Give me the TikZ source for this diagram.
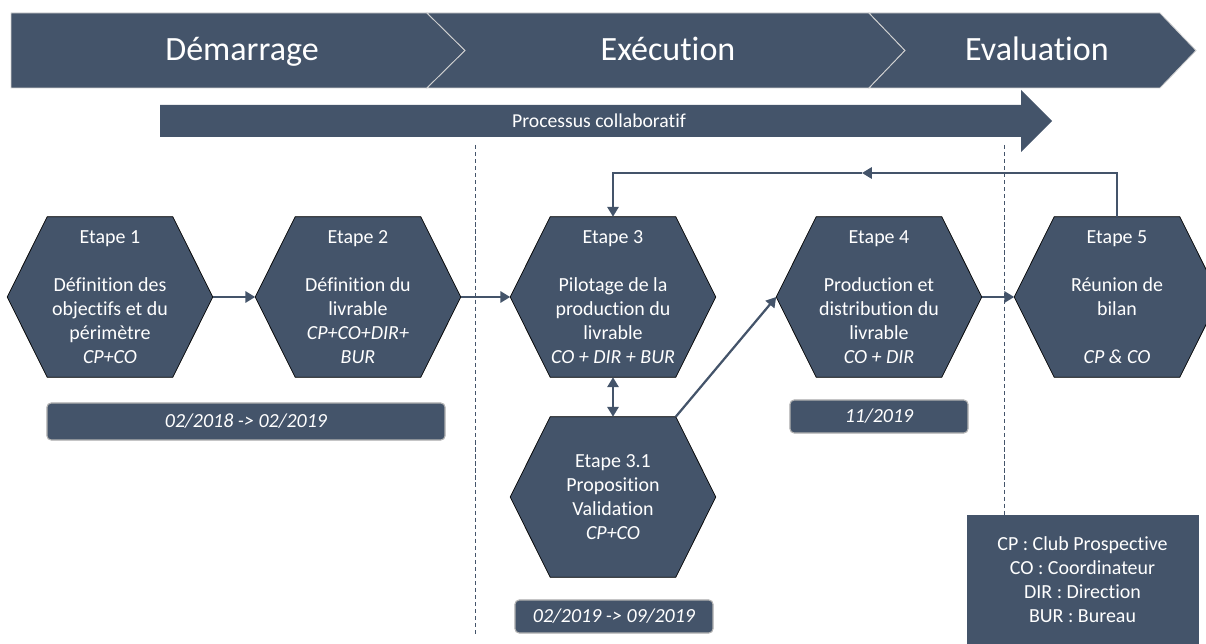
\documentclass[tikz,border=0pt]{standalone}
\usepackage{fontspec}
\setmainfont{Carlito}[Ligatures={NoCommon}]
\usetikzlibrary{arrows.meta,backgrounds}
\definecolor{slate}{HTML}{44546A}

\begin{document}
\begin{tikzpicture}[x=0.025cm, y=-0.025cm,
  etape/.style={minimum width=5.125cm, minimum height=4cm, inner sep=0pt, text=white, align=center, font=\fontsize{14.2}{17.1}\selectfont},
  hexa/.style={fill=slate, draw=black, line width=0.5pt},
  datebox/.style={fill=slate, draw=gray!60, line width=0.8pt, rounded corners=3pt, text=white, inner sep=0pt, font=\fontsize{14.2}{17.1}\selectfont\itshape},
  conn/.style={draw=slate, line width=1.6pt, -{Triangle[length=7pt, width=8pt]}},
  phase/.style={text=white, anchor=base, font=\fontsize{24.2}{29}\selectfont},
  chev/.style={fill=slate, draw=gray!35, line width=0.6pt},
  sep/.style={draw=slate, line width=0.6pt, dash pattern=on 3pt off 2pt}]
\useasboundingbox (0,0) rectangle (1206,644);
\clip (0,0) rectangle (1206,644);

% bandeau des phases
\filldraw[chev] (11,13) -- (427,13) -- (465,50.5) -- (427,88) -- (11,88) -- cycle;
\filldraw[chev] (427,13) -- (869,13) -- (905,50.5) -- (869,88) -- (427,88) -- (465,50.5) -- cycle;
\filldraw[chev] (869,13) -- (1160,13) -- (1196,50.5) -- (1160,88) -- (869,88) -- (905,50.5) -- cycle;
\node[phase] (dem) at (242,61) {Démarrage};
\node[phase] (exe) at (668,61) {Exécution};
\node[phase] (eva) at (1037,61) {Evaluation};

% processus collaboratif
\fill[slate] (160,105) -- (1021,105) -- (1021,90) -- (1052,121) -- (1021,152) -- (1021,137) -- (160,137) -- cycle;
\node[text=white, font=\fontsize{14}{17}\selectfont] (proc) at (599,121) {Processus collaboratif};

% separations
\coordinate (s1a) at (475,145); \coordinate (s1b) at (475,636);
\coordinate (s2a) at (1004,145); \coordinate (s2b) at (1004,515);
\draw[sep] (s1a) -- (s1b);
\draw[sep] (s2a) -- (s2b);

% etapes
\node[etape] (e1) at (110,297) {Etape 1\\[17.1pt]Définition des\\objectifs et du\\périmètre\\\textit{CP+CO}};
\node[etape] (e2) at (358,297) {Etape 2\\[17.1pt]Définition du\\livrable\\\textit{CP+CO+DIR+}\\\textit{BUR}};
\node[etape] (e3) at (613,297) {Etape 3\\[17.1pt]Pilotage de la\\production du\\livrable\\\textit{CO + DIR + BUR}};
\node[etape] (e4) at (879,297) {Etape 4\\[17.1pt]Production et\\distribution du\\livrable\\\textit{CO + DIR}};
\node[etape] (e5) at (1117,297) {Etape 5\\[17.1pt]Réunion de\\bilan\\[17.1pt]\textit{CP \& CO}};
\node[etape] (e31) at (613,497) {Etape 3.1\\Proposition\\Validation\\\textit{CP+CO}};

\begin{scope}[on background layer]
\foreach \n in {e1,e2,e3,e31,e4,e5}
  \filldraw[hexa] (\n.west) -- ([xshift=1cm]\n.north west) -- ([xshift=-1cm]\n.north east)
    -- (\n.east) -- ([xshift=-1cm]\n.south east) -- ([xshift=1cm]\n.south west) -- cycle;
\end{scope}

% liaisons
\draw[conn] (e1.east) -- (e2.west);
\draw[conn] (e2.east) -- (e3.west);
\draw[conn] (e4.east) -- (e5.west);
\draw[conn, {Triangle[length=7pt, width=8pt]}-{Triangle[length=7pt, width=8pt]}] (e3.south) -- (e31.north);
\coordinate (c31) at ([xshift=-1cm]e31.north east);
\draw[conn] (c31) -- (e4.west);
\coordinate (back) at (862,173);
\draw[conn] (e5.north) |- (back);
\draw[conn] (back) -| (e3.north);

% dates
\node[datebox, minimum width=9.95cm, minimum height=0.925cm] (d1) at (246,421.5) {02/2018 -> 02/2019};
\node[datebox, minimum width=4.45cm, minimum height=0.825cm] (d4) at (879,416.5) {11/2019};
\node[datebox, minimum width=4.95cm, minimum height=0.825cm] (d31) at (614,616.5) {02/2019 -> 09/2019};

% legende
\node[fill=slate, draw=slate, text=white, align=center, inner sep=0pt, minimum width=5.775cm, minimum height=3.225cm,
  font=\fontsize{14.2}{17.1}\selectfont] (leg) at (1082.5,579.5) {CP : Club Prospective\\CO : Coordinateur\\DIR : Direction\\BUR : Bureau};
\end{tikzpicture}
\end{document}
